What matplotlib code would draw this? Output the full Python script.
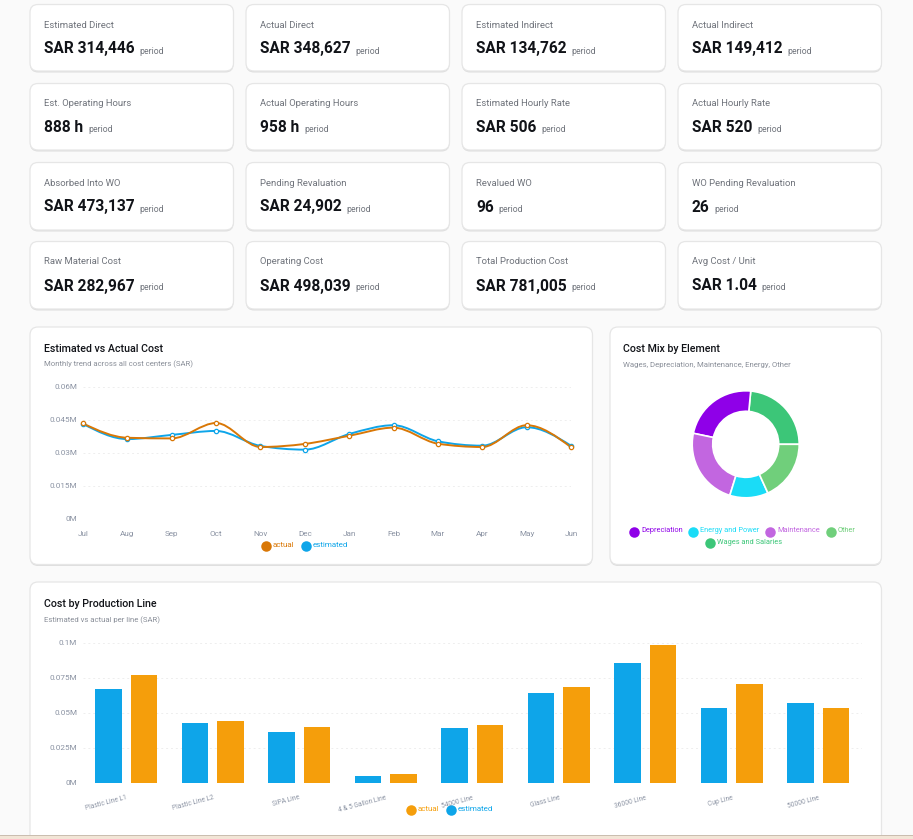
"""Production cost dashboard"""

import numpy as np
import matplotlib
matplotlib.use('Agg')
import matplotlib.pyplot as plt
from matplotlib.patches import FancyBboxPatch, Rectangle
from matplotlib.path import Path
from matplotlib.patches import PathPatch

plt.rcParams['font.family'] = ['Roboto', 'DejaVu Sans']

W, H = 913, 839

kpi_labels = [
    'Estimated Direct', 'Actual Direct', 'Estimated Indirect', 'Actual Indirect',
    'Est. Operating Hours', 'Actual Operating Hours', 'Estimated Hourly Rate', 'Actual Hourly Rate',
    'Absorbed Into WO', 'Pending Revaluation', 'Revalued WO', 'WO Pending Revaluation',
    'Raw Material Cost', 'Operating Cost', 'Total Production Cost', 'Avg Cost / Unit',
]
kpi_values = [
    'SAR 314,446', 'SAR 348,627', 'SAR 134,762', 'SAR 149,412',
    '888 h', '958 h', 'SAR 506', 'SAR 520',
    'SAR 473,137', 'SAR 24,902', '96', '26',
    'SAR 282,967', 'SAR 498,039', 'SAR 781,005', 'SAR 1.04',
]

months = ['Jul', 'Aug', 'Sep', 'Oct', 'Nov', 'Dec', 'Jan', 'Feb', 'Mar', 'Apr', 'May', 'Jun']
trend_actual = [0.0432, 0.0367, 0.0364, 0.0434, 0.0325, 0.0339,
                0.0376, 0.0413, 0.0340, 0.0325, 0.0424, 0.0324]
trend_estimated = [0.0430, 0.0361, 0.0380, 0.0398, 0.0330, 0.0313,
                   0.0384, 0.0424, 0.0351, 0.0331, 0.0415, 0.0331]

mix_names = ['Wages and Salaries', 'Depreciation', 'Maintenance', 'Energy and Power', 'Other']
mix_values = [23.5, 23.2, 23.5, 11.6, 18.2]
mix_colors = ['#3cc678', '#8f00e8', '#c266e0', '#1adcf7', '#70cf7b']

lines = ['Plastic Line L1', 'Plastic Line L2', 'SIPA Line', '4 & 5 Gallon Line', '54000 Line',
         'Glass Line', '36000 Line', 'Cup Line', '50000 Line']
line_estimated = [0.0668, 0.0425, 0.0361, 0.0049, 0.0389, 0.0639, 0.0853, 0.0532, 0.0568]
line_actual = [0.0768, 0.0439, 0.0396, 0.0063, 0.0411, 0.0682, 0.0979, 0.0704, 0.0529]

INK = '#111318'
MUTED = '#6f737b'
AXIS = '#8b93a3'
GRID = '#eeeeee'


def px(size):
    # font size in picture pixels
    return size * 72 / 100


def monotone_path(x, y):
    # cubic segments with monotone tangents, the way the web chart smooths its lines
    x = np.asarray(x, float)
    y = np.asarray(y, float)
    h = np.diff(x)
    s = np.diff(y) / h
    t = np.zeros(len(x))
    for i in range(1, len(x) - 1):
        if s[i - 1] * s[i] > 0:
            p = (s[i - 1] * h[i] + s[i] * h[i - 1]) / (h[i - 1] + h[i])
            t[i] = (np.sign(s[i - 1]) + np.sign(s[i])) * min(abs(s[i - 1]), abs(s[i]), 0.5 * abs(p))
    t[0] = (3 * s[0] - t[1]) / 2
    t[-1] = (3 * s[-1] - t[-2]) / 2
    verts = [(x[0], y[0])]
    codes = [Path.MOVETO]
    for i in range(len(h)):
        d = h[i] / 3
        verts += [(x[i] + d, y[i] + d * t[i]), (x[i + 1] - d, y[i + 1] - d * t[i + 1]), (x[i + 1], y[i + 1])]
        codes += [Path.CURVE4] * 3
    return Path(verts, codes)


fig = plt.figure(figsize=(W / 100, H / 100), dpi=100, facecolor='#fafafa')
renderer = fig.canvas.get_renderer()

# whole picture as a pixel canvas for cards and text
bg = fig.add_axes([0, 0, 1, 1])
bg.set_xlim(0, W)
bg.set_ylim(H, 0)
bg.axis('off')


def card(x0, y0, x1, y1):
    r = 8
    bg.add_patch(FancyBboxPatch((x0 + r, y0 + r + 1.5), x1 - x0 - 2 * r, y1 - y0 - 2 * r,
                                boxstyle=f'round,pad={r},rounding_size={r}',
                                fc='#dedede', ec='none', zorder=1))
    bg.add_patch(FancyBboxPatch((x0 + r, y0 + r), x1 - x0 - 2 * r, y1 - y0 - 2 * r,
                                boxstyle=f'round,pad={r},rounding_size={r}',
                                fc='white', ec='#e6e6e6', lw=0.9, zorder=2))


def panel_axes(left, top, right, bottom):
    ax = fig.add_axes([left / W, 1 - bottom / H, (right - left) / W, (bottom - top) / H])
    ax.patch.set_alpha(0)
    for spine in ax.spines.values():
        spine.set_visible(False)
    ax.tick_params(length=0, labelsize=px(8.2), labelcolor=AXIS)
    return ax


def legend_item(x, y, text, color, size=8):
    bg.plot([x], [y], 'o', ms=px(10.5), color=color, mec='none', zorder=5)
    bg.text(x + 7.5, y - 0.5, text, color=color, fontsize=px(size), va='center', ha='left', zorder=5)


# KPI cards
col_x = [30, 246, 462, 678]
row_y = [(4.5, 71), (83.5, 150), (162.5, 230), (241.5, 309)]
for i, (label, value) in enumerate(zip(kpi_labels, kpi_values)):
    r, c = divmod(i, 4)
    x0 = col_x[c]
    y0, y1 = row_y[r]
    card(x0, y0, x0 + 203.5, y1)
    bg.text(x0 + 14, y0 + 20.5, label, fontsize=px(9.5), color=MUTED, va='center', zorder=3)
    t = bg.text(x0 + 14, y0 + 49, value, fontsize=px(15.5), fontweight='bold', color=INK,
                va='baseline', zorder=3)
    # "period" sits just after the value on the same baseline
    end = bg.transData.inverted().transform(t.get_window_extent(renderer).get_points())[1, 0]
    bg.text(end + 5, y0 + 49, 'period', fontsize=px(8.8), color=MUTED, va='baseline', zorder=3)

# chart cards
card(30, 327, 592.5, 564.5)
card(610, 327, 881.5, 564.5)
card(30, 582, 881.5, 870)
bg.add_patch(Rectangle((0, 835.5), W, 4, fc='#f2e5d6', ec='none', zorder=4))
bg.plot([0, W], [835.2, 835.2], color='#c9bcae', lw=0.7, zorder=4)

for x, y, title, sub in [
    (44, 348.5, 'Estimated vs Actual Cost', 'Monthly trend across all cost centers (SAR)'),
    (623, 348.5, 'Cost Mix by Element', 'Wages, Depreciation, Maintenance, Energy, Other'),
    (44, 604, 'Cost by Production Line', 'Estimated vs actual per line (SAR)'),
]:
    bg.text(x, y, title, fontsize=px(10.6), fontweight='medium', color=INK, va='center', zorder=3)
    bg.text(x, y + 16, sub, fontsize=px(7.8), color='#8a8f99', va='center', zorder=3)

# line chart
ax = panel_axes(83, 386.5, 571, 518.5)
x = np.arange(len(months))
ax.set_xlim(0, len(months) - 1)
ax.set_ylim(0, 0.06)
ax.set_yticks([0, 0.015, 0.03, 0.045, 0.06], ['0M', '0.015M', '0.03M', '0.045M', '0.06M'])
ax.set_xticks(x, months)
ax.tick_params(axis='x', pad=9)
ax.tick_params(axis='y', pad=4.3)
ax.grid(axis='y', color=GRID, lw=0.7, ls=(0, (2, 3)))
ax.set_axisbelow(True)
for series, color in [(trend_estimated, '#0ea5e9'), (trend_actual, '#d97706')]:
    ax.add_patch(PathPatch(monotone_path(x, series), fc='none', ec=color, lw=1.4, zorder=3))
    ax.plot(x, series, 'o', ms=3.1, mfc='white', mec=color, mew=0.9, zorder=4, clip_on=False)
legend_item(265.5, 545.5, 'actual', '#d97706')
legend_item(305.5, 545.5, 'estimated', '#0ea5e9')

# donut
ax = fig.add_axes([(745.7 - 70) / W, 1 - (444.3 + 70) / H, 140 / W, 140 / H])
ax.pie(mix_values, colors=mix_colors, startangle=0, counterclock=True, radius=53.5 / 70,
       wedgeprops=dict(width=20.5 / 70, edgecolor='white', linewidth=1.2))
ax.set_xlim(-1, 1)
ax.set_ylim(-1, 1)
for name, lx, ly in [('Depreciation', 633.5, 531.5), ('Energy and Power', 693, 531.5),
                     ('Maintenance', 770, 531.5), ('Other', 830.5, 531.5),
                     ('Wages and Salaries', 709.5, 542.5)]:
    legend_item(lx, ly, name, mix_colors[mix_names.index(name)], size=7.4)

# bar chart
ax = panel_axes(83, 642.5, 861.5, 782.5)
pos = np.arange(len(lines))
ax.set_xlim(-0.5, len(lines) - 0.5)
ax.set_ylim(0, 0.1)
bar_w = 26.7 / 86.5
gap = 9 / 86.5
ax.bar(pos - (bar_w + gap) / 2, line_estimated, bar_w, color='#0ea5e9', zorder=3)
ax.bar(pos + (bar_w + gap) / 2, line_actual, bar_w, color='#f59e0b', zorder=3)
ax.set_yticks([0, 0.025, 0.05, 0.075, 0.1], ['0M', '0.025M', '0.05M', '0.075M', '0.1M'])
ax.tick_params(axis='y', pad=4.3)
ax.grid(axis='y', color=GRID, lw=0.7, ls=(0, (2, 3)))
ax.set_axisbelow(True)
ax.set_xticks(pos, lines, rotation=15, ha='right', rotation_mode='anchor')
ax.tick_params(axis='x', pad=8.5, labelsize=px(6.6))
legend_item(410.5, 809.5, 'actual', '#f59e0b')
legend_item(450.5, 809.5, 'estimated', '#0ea5e9')

fig.savefig('out.png', dpi=100, facecolor=fig.get_facecolor())
